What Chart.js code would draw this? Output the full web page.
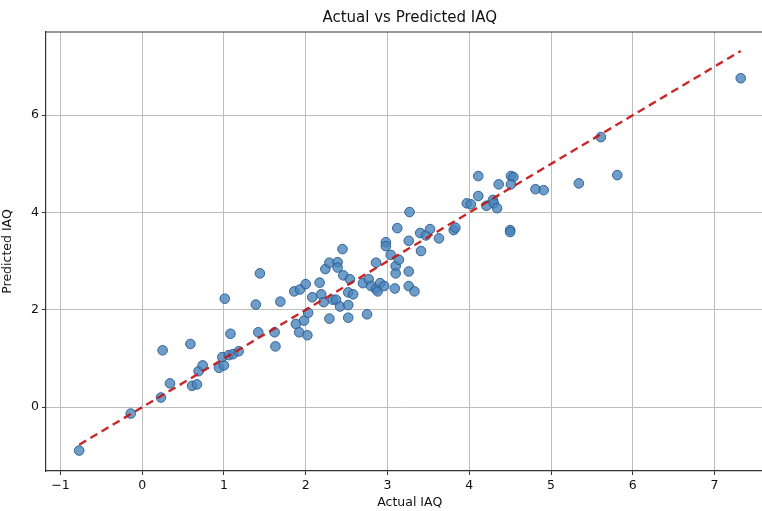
<!DOCTYPE html>
<html>
<head>
<meta charset="utf-8">
<script src="https://cdn.jsdelivr.net/npm/chart.js@4.4.1/dist/chart.umd.min.js"></script>
<style>
  html, body { margin: 0; padding: 0; background: #fff; overflow: hidden; }
  #wrap { width: 762px; height: 511px; }
</style>
</head>
<body>
<div id="wrap"><canvas id="iaq" width="762" height="511"></canvas></div>
<script>
const actualIAQ = [
  -0.77, -0.14, 0.23, 0.34, 0.25, 0.61, 0.67, 0.69, 0.74, 0.59,
  0.94, 1.00, 0.98, 1.06, 1.11, 1.18, 1.01, 1.08, 1.44, 1.39,
  1.69, 1.42, 1.62, 1.63, 1.86, 1.93, 1.88, 1.92, 2.00, 1.98,
  2.02, 2.03, 2.08, 2.17, 2.19, 2.22, 2.29, 2.24, 2.29, 2.39,
  2.39, 2.45, 2.33, 2.37, 2.42, 2.52, 2.52, 2.46, 2.54, 2.52,
  2.58, 2.70, 2.77, 2.80, 2.86, 2.88, 2.91, 2.96, 2.75, 2.86,
  2.98, 2.98, 3.04, 3.10, 3.10, 3.14, 3.09, 3.12, 3.26, 3.27,
  3.26, 3.26, 3.33, 3.41, 3.40, 3.47, 3.52, 3.63, 3.81, 3.83,
  3.97, 4.02, 4.11, 4.11, 4.21, 4.29, 4.30, 4.34, 4.36, 4.51,
  4.54, 4.51, 4.50, 4.50, 4.81, 4.91, 5.34, 5.61, 5.81, 7.32
];
const predictedIAQ = [
  -0.89, -0.13, 0.20, 0.49, 1.17, 0.44, 0.47, 0.74, 0.86, 1.30,
  0.81, 0.86, 1.03, 1.07, 1.09, 1.15, 2.23, 1.51, 2.75, 2.11,
  2.17, 1.54, 1.54, 1.25, 2.38, 2.42, 1.71, 1.54, 2.53, 1.78,
  1.48, 1.94, 2.26, 2.56, 2.32, 2.16, 1.82, 2.84, 2.97, 2.98,
  2.87, 3.25, 2.21, 2.21, 2.07, 2.10, 1.84, 2.71, 2.63, 2.36,
  2.32, 2.55, 2.63, 2.49, 2.43, 2.38, 2.55, 2.49, 1.91, 2.97,
  3.39, 3.31, 3.13, 2.90, 2.75, 3.03, 2.44, 3.68, 3.42, 4.01,
  2.79, 2.49, 2.38, 3.21, 3.58, 3.53, 3.66, 3.47, 3.64, 3.69,
  4.19, 4.17, 4.34, 4.75, 4.14, 4.26, 4.19, 4.09, 4.58, 4.75,
  4.73, 4.58, 3.64, 3.60, 4.48, 4.46, 4.60, 5.55, 4.77, 6.76
];
// visible axis window (the right side of the figure is cut off at 7.58,
// the full axes would run to 7.72)
const xTickRange = [-1.176, 7.58];
const xFullMax = 7.72;
const yTickRange = [-1.31, 7.71];

const titleText = "Actual vs Predicted IAQ";
const xLabelText = "Actual IAQ";
const yLabelText = "Predicted IAQ";

const font = "'DejaVu Sans', sans-serif";

function buildPoints() {
  return actualIAQ.map((x, i) => ({ x: x, y: predictedIAQ[i] }));
}

function buildIdealLine() {
  const lo = Math.min(...actualIAQ);
  const hi = Math.max(...actualIAQ);
  return [{ x: lo, y: lo }, { x: hi, y: hi }];
}

// top edge of the axes box + title and x label centred on the uncut axes
const frameAndTitles = {
  id: "frameAndTitles",
  afterDraw(chart) {
    const { ctx, chartArea } = chart;
    const xScale = chart.scales.x;
    const mid = (chartArea.left + xScale.getPixelForValue(xFullMax)) / 2;
    ctx.save();
    ctx.strokeStyle = "#333";
    ctx.lineWidth = 1.2;
    ctx.beginPath();
    ctx.moveTo(chartArea.left, chartArea.top);
    ctx.lineTo(chart.width, chartArea.top);
    ctx.stroke();

    ctx.fillStyle = "#111";
    ctx.textAlign = "center";
    ctx.textBaseline = "middle";
    ctx.font = "15px " + font;
    ctx.fillText(titleText, mid, 18);
    ctx.font = "12.5px " + font;
    ctx.fillText(xLabelText, mid, 503);
    ctx.restore();
  },
};

function setScatterChart() {
  const data = {
    datasets: [
      {
        label: "Ideal",
        type: "line",
        data: buildIdealLine(),
        borderColor: "rgba(196,22,22,0.92)",
        borderWidth: 2.4,
        borderDash: [8, 5],
        pointRadius: 0,
        fill: false,
        order: 0,
      },
      {
        label: "Predictions",
        type: "scatter",
        data: buildPoints(),
        backgroundColor: "rgba(74,132,186,0.8)",
        borderColor: "rgba(40,90,145,0.9)",
        borderWidth: 1,
        pointRadius: 4.8,
        order: 1,
      },
    ],
  };

  const config = {
    type: "scatter",
    data: data,
    options: {
      responsive: false,
      animation: false,
      devicePixelRatio: 1,
      layout: {
        autoPadding: false,
        padding: { left: 0, right: 0, top: 32, bottom: 0 },
      },
      plugins: {
        legend: { display: false },
        tooltip: { enabled: false },
        title: { display: false },
      },
      scales: {
        x: {
          type: "linear",
          min: xTickRange[0],
          max: xTickRange[1],
          afterFit(scale) {
            scale.height = 40;
            scale.paddingLeft = 0;
            scale.paddingRight = 0;
          },
          ticks: {
            stepSize: 1,
            includeBounds: false,
            color: "#111",
            padding: 3,
            font: { family: font, size: 12.5 },
            callback: (v) => (v < 0 ? "\u2212" + Math.abs(v) : String(v)),
          },
          grid: {
            color: "#bdbdbd",
            lineWidth: 1,
            tickColor: "#333",
            tickLength: 4,
          },
          border: { display: true, color: "#333", width: 1.2 },
        },
        y: {
          type: "linear",
          min: yTickRange[0],
          max: yTickRange[1],
          afterFit(scale) {
            scale.width = 46;
            scale.paddingTop = 0;
            scale.paddingBottom = 0;
          },
          ticks: {
            stepSize: 2,
            includeBounds: false,
            color: "#111",
            padding: 3,
            font: { family: font, size: 12.5 },
          },
          grid: {
            color: "#bdbdbd",
            lineWidth: 1,
            tickColor: "#333",
            tickLength: 4,
          },
          border: { display: true, color: "#333", width: 1.2 },
          title: {
            display: true,
            text: yLabelText,
            color: "#111",
            font: { family: font, size: 12.5 },
            padding: { top: 0, bottom: 2 },
          },
        },
      },
    },
    plugins: [frameAndTitles],
  };

  new Chart(document.querySelector("#iaq"), config);
}

setScatterChart();
</script>
</body>
</html>
